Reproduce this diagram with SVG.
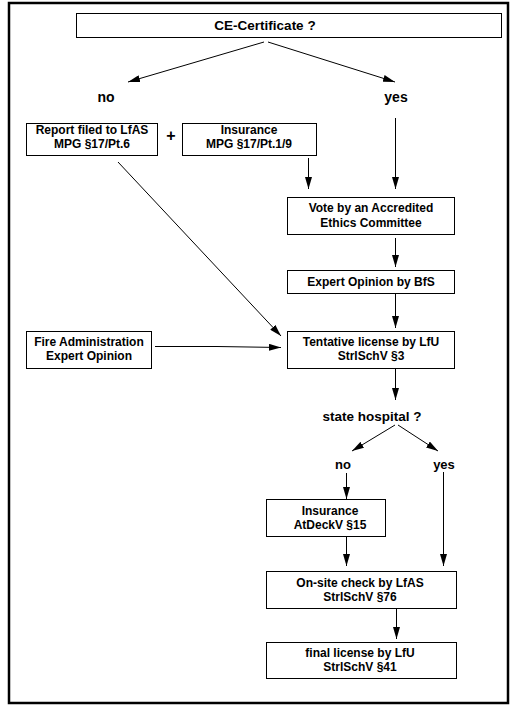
<svg xmlns="http://www.w3.org/2000/svg" width="524" height="723" viewBox="0 0 524 723">
<defs>
<marker id="ah" markerUnits="userSpaceOnUse" markerWidth="12" markerHeight="7" refX="12" refY="3.5" orient="auto">
<path d="M0,0 L12,3.5 L0,7 z" fill="#000"/>
</marker>
</defs>
<style>
.b{fill:#fff;stroke:#000;stroke-width:1}
.t{font-family:"Liberation Sans",Arial,sans-serif;font-weight:bold;font-size:12px;text-anchor:middle;fill:#000}
.c line,.c polyline{stroke:#000;stroke-width:1;fill:none}
.a{marker-end:url(#ah)}
</style>
<rect x="0" y="0" width="524" height="723" fill="#fff"/>
<rect x="9" y="3" width="499" height="700" fill="none" stroke="#000" stroke-width="2.5"/>

<g id="ce">
<rect class="b" x="76.5" y="13.5" width="425" height="24"/>
<text class="t" x="265" y="30" style="font-size:13.5px">CE-Certificate ?</text>
</g>
<g id="no1"><text class="t" x="106" y="102" style="font-size:14px">no</text></g>
<g id="yes1"><text class="t" x="396" y="102" style="font-size:14px">yes</text></g>

<g id="report">
<rect class="b" x="26.5" y="123.5" width="131" height="32"/>
<text class="t" x="92" y="134">Report filed to LfAS</text>
<text class="t" x="92" y="148">MPG §17/Pt.6</text>
</g>
<g id="plus"><text class="t" x="171" y="141" style="font-size:16px">+</text></g>
<g id="insurance1">
<rect class="b" x="182.5" y="123.5" width="134" height="32"/>
<text class="t" x="249" y="134">Insurance</text>
<text class="t" x="249" y="148">MPG §17/Pt.1/9</text>
</g>
<g id="vote">
<rect class="b" x="287.5" y="197.5" width="167" height="37"/>
<text class="t" x="371" y="212">Vote by an Accredited</text>
<text class="t" x="371" y="227">Ethics Committee</text>
</g>
<g id="expert">
<rect class="b" x="287.5" y="270.5" width="167" height="23"/>
<text class="t" x="371" y="286">Expert Opinion by BfS</text>
</g>
<g id="fire">
<rect class="b" x="26.5" y="331.5" width="125" height="37"/>
<text class="t" x="89" y="346">Fire Administration</text>
<text class="t" x="89" y="360">Expert Opinion</text>
</g>
<g id="tentative">
<rect class="b" x="287.5" y="331.5" width="167" height="37"/>
<text class="t" x="371" y="346">Tentative license by LfU</text>
<text class="t" x="371" y="360">StrlSchV §3</text>
</g>
<g id="state"><text class="t" x="372" y="421" style="font-size:13.5px">state hospital  ?</text></g>
<g id="no2"><text class="t" x="343" y="469" style="font-size:13px">no</text></g>
<g id="yes2"><text class="t" x="444" y="469" style="font-size:13px">yes</text></g>
<g id="insurance2">
<rect class="b" x="266.5" y="499.5" width="119" height="37"/>
<text class="t" x="330" y="515">Insurance</text>
<text class="t" x="330" y="529">AtDeckV §15</text>
</g>
<g id="onsite">
<rect class="b" x="266.5" y="571.5" width="190" height="37"/>
<text class="t" x="360" y="587">On-site check by LfAS</text>
<text class="t" x="360" y="601">StrlSchV §76</text>
</g>
<g id="final">
<rect class="b" x="266.5" y="642.5" width="190" height="36"/>
<text class="t" x="360" y="657">final license by LfU</text>
<text class="t" x="360" y="671">StrlSchV §41</text>
</g>

<g id="connectors" class="c">
<line class="a" x1="264" y1="42" x2="128" y2="82"/>
<line class="a" x1="268" y1="42" x2="395" y2="82"/>
<line class="a" x1="308.5" y1="158" x2="308.5" y2="189"/>
<line class="a" x1="395.5" y1="118" x2="395.5" y2="189"/>
<line class="a" x1="395.5" y1="238" x2="395.5" y2="267"/>
<line class="a" x1="395.5" y1="294" x2="395.5" y2="328"/>
<line class="a" x1="118" y1="162" x2="281" y2="336"/>
<polyline class="a" points="155,346.5 217,346.5 281,347.5"/>
<line class="a" x1="395.5" y1="369" x2="395.5" y2="400"/>
<line class="a" x1="395" y1="425" x2="352" y2="451"/>
<line class="a" x1="398" y1="425" x2="438" y2="451"/>
<line class="a" x1="346.5" y1="473" x2="346.5" y2="499"/>
<line class="a" x1="443.5" y1="472" x2="443.5" y2="566"/>
<line class="a" x1="346.5" y1="537" x2="346.5" y2="566"/>
<line class="a" x1="396.5" y1="609" x2="396.5" y2="639"/>
</g>
</svg>
